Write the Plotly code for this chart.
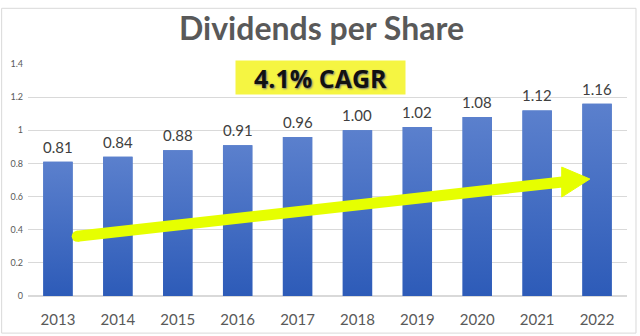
import plotly.graph_objects as go

years = ["2013", "2014", "2015", "2016", "2017", "2018", "2019", "2020", "2021", "2022"]
dividends = [0.81, 0.84, 0.88, 0.91, 0.96, 1.00, 1.02, 1.08, 1.12, 1.16]
title_text = "Dividends per Share"
cagr_text = "4.1% CAGR"

idx = list(range(len(years)))
half = 0.245
grad = [[0, "#2d5bb8"], [1, "#5b80cd"]]

fig = go.Figure()
fig.add_trace(go.Bar(
    x=idx, y=dividends, width=2 * half,
    marker=dict(color="#4472c4", line=dict(width=0)),
    hoverinfo="skip",
))
for i, v in zip(idx, dividends):
    fig.add_trace(go.Scatter(
        x=[i - half, i + half, i + half, i - half, i - half],
        y=[0, 0, v, v, 0],
        mode="lines", line=dict(width=0, color="rgba(0,0,0,0)"),
        fill="toself", fillgradient=dict(type="vertical", colorscale=grad),
        hoverinfo="skip",
    ))
    fig.add_annotation(x=i, y=v, text=f"{v:.2f}", showarrow=False,
                       yanchor="bottom", yshift=4,
                       font=dict(family="Lato", size=15, color="#404040"))

# arrow (trend) drawn in data coordinates
x0, y0 = 0.32, 0.36
xb, yb = 8.41, 0.6875
fig.add_shape(type="line", xref="x", yref="y", x0=x0, y0=y0, x1=xb + 0.05, y1=yb + 0.002,
              line=dict(color="#e6ff00", width=11))
fig.add_shape(type="path", xref="x", yref="y",
              path="M 8.41 0.778 L 8.88 0.706 L 8.41 0.597 Z",
              fillcolor="#e6ff00", line=dict(color="#e6ff00", width=1))
fig.add_shape(type="circle", xref="x", yref="y", x0=x0 - 0.09, x1=x0 + 0.09, y0=y0 - 0.033, y1=y0 + 0.033,
              fillcolor="#e6ff00", line=dict(width=0))

fig.add_annotation(text="<b>" + title_text + "</b>", xref="paper", yref="paper",
                   x=0.49, xanchor="center", y=1.0, yanchor="middle", yshift=37,
                   showarrow=False, font=dict(family="Lato", size=32, color="#595959"))
fig.add_annotation(text="<b>" + cagr_text + "</b>", xref="paper", yref="paper",
                   x=0.489, xanchor="center", y=1.0, yanchor="middle", yshift=-13,
                   showarrow=False, bgcolor="#f5f542", borderpad=2, width=165, height=29,
                   font=dict(family="Open Sans", size=25, color="#111111", shadow="1px 1px 2px #777"))

# outer light border
fig.add_shape(type="rect", xref="paper", yref="paper", x0=-0.044, x1=1.015, y0=-0.16, y1=1.24,
              line=dict(color="#d9d9d9", width=1), layer="below")

fig.update_layout(
    width=640, height=336,
    margin=dict(l=28, r=13, t=64, b=40, autoexpand=False),
    paper_bgcolor="white", plot_bgcolor="white",
    showlegend=False,
    xaxis=dict(range=[-0.5, 9.5], tickvals=idx, ticktext=years, showgrid=False, showline=False,
               ticks="", zeroline=False, ticklabelstandoff=13, automargin=False,
               tickfont=dict(family="Lato", size=15, color="#595959")),
    yaxis=dict(range=[0, 1.4], dtick=0.2, showgrid=True, gridcolor="#d9d9d9", gridwidth=1,
               zeroline=True, zerolinecolor="#d9d9d9", showline=False, ticks="", automargin=False,
               tickfont=dict(family="Lato", size=9, color="#595959"), ticklabelstandoff=4),
)

fig.write_html("out.html")
